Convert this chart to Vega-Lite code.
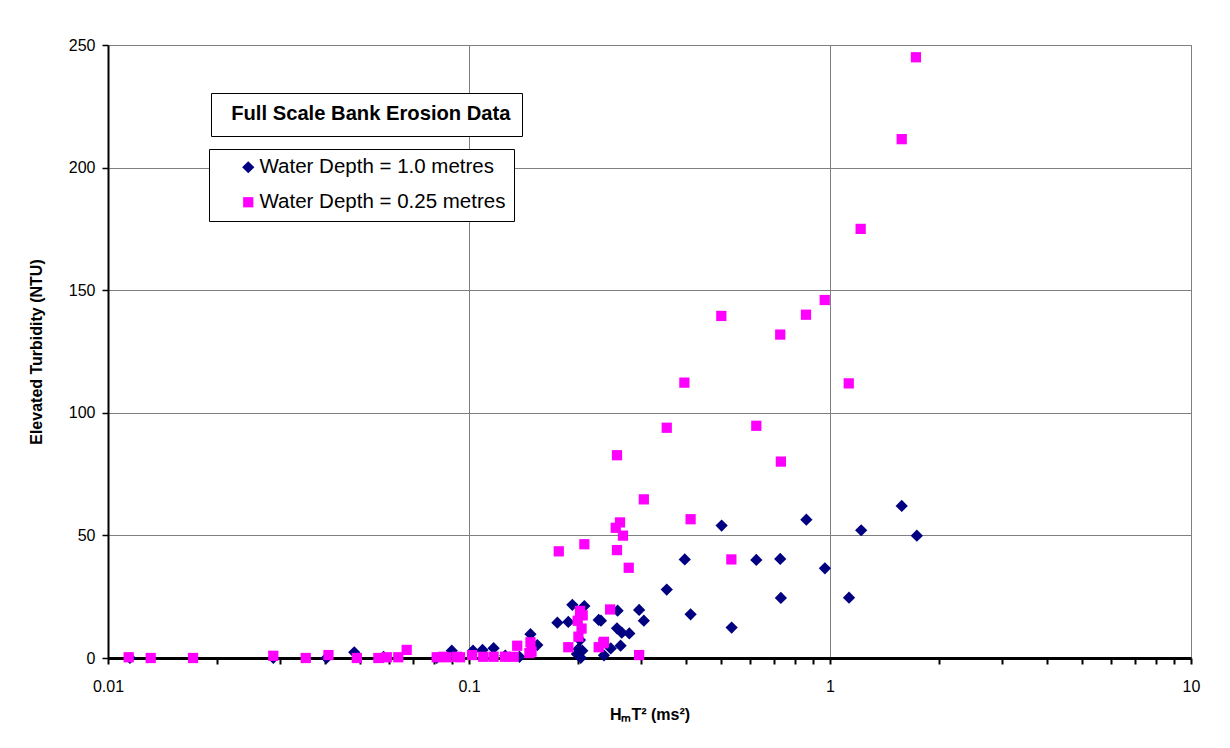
{
  "$schema": "https://vega.github.io/schema/vega-lite/v6.json",
  "autosize": "none",
  "width": 1083,
  "height": 613,
  "padding": {"left": 108, "top": 45, "right": 39, "bottom": 90},
  "background": "white",
  "config": {
    "font": "Liberation Sans",
    "view": {"stroke": "#808080", "strokeWidth": 1}
  },
  "datasets": {
    "obs": [
      {"series": "Water Depth = 1.0 metres", "hmt2": 0.0115, "turbidity": 0},
      {"series": "Water Depth = 1.0 metres", "hmt2": 0.0287, "turbidity": 0},
      {"series": "Water Depth = 1.0 metres", "hmt2": 0.0403, "turbidity": 0},
      {"series": "Water Depth = 1.0 metres", "hmt2": 0.0481, "turbidity": 2.3},
      {"series": "Water Depth = 1.0 metres", "hmt2": 0.058, "turbidity": 0.5},
      {"series": "Water Depth = 1.0 metres", "hmt2": 0.0814, "turbidity": 0},
      {"series": "Water Depth = 1.0 metres", "hmt2": 0.0896, "turbidity": 3},
      {"series": "Water Depth = 1.0 metres", "hmt2": 0.1026, "turbidity": 3},
      {"series": "Water Depth = 1.0 metres", "hmt2": 0.109, "turbidity": 3.3},
      {"series": "Water Depth = 1.0 metres", "hmt2": 0.117, "turbidity": 4},
      {"series": "Water Depth = 1.0 metres", "hmt2": 0.126, "turbidity": 1},
      {"series": "Water Depth = 1.0 metres", "hmt2": 0.138, "turbidity": 0.5},
      {"series": "Water Depth = 1.0 metres", "hmt2": 0.148, "turbidity": 9.7},
      {"series": "Water Depth = 1.0 metres", "hmt2": 0.1546, "turbidity": 5.3},
      {"series": "Water Depth = 1.0 metres", "hmt2": 0.1757, "turbidity": 14.4},
      {"series": "Water Depth = 1.0 metres", "hmt2": 0.1884, "turbidity": 14.7},
      {"series": "Water Depth = 1.0 metres", "hmt2": 0.1933, "turbidity": 21.7},
      {"series": "Water Depth = 1.0 metres", "hmt2": 0.199, "turbidity": 1.6},
      {"series": "Water Depth = 1.0 metres", "hmt2": 0.201, "turbidity": 3.7},
      {"series": "Water Depth = 1.0 metres", "hmt2": 0.203, "turbidity": 7.3},
      {"series": "Water Depth = 1.0 metres", "hmt2": 0.204, "turbidity": 0.1},
      {"series": "Water Depth = 1.0 metres", "hmt2": 0.206, "turbidity": 3},
      {"series": "Water Depth = 1.0 metres", "hmt2": 0.2087, "turbidity": 21.2},
      {"series": "Water Depth = 1.0 metres", "hmt2": 0.2287, "turbidity": 15.5},
      {"series": "Water Depth = 1.0 metres", "hmt2": 0.232, "turbidity": 15.2},
      {"series": "Water Depth = 1.0 metres", "hmt2": 0.2365, "turbidity": 1.1},
      {"series": "Water Depth = 1.0 metres", "hmt2": 0.247, "turbidity": 3.9},
      {"series": "Water Depth = 1.0 metres", "hmt2": 0.257, "turbidity": 12.1},
      {"series": "Water Depth = 1.0 metres", "hmt2": 0.258, "turbidity": 19.3},
      {"series": "Water Depth = 1.0 metres", "hmt2": 0.263, "turbidity": 5},
      {"series": "Water Depth = 1.0 metres", "hmt2": 0.265, "turbidity": 10.3},
      {"series": "Water Depth = 1.0 metres", "hmt2": 0.278, "turbidity": 10},
      {"series": "Water Depth = 1.0 metres", "hmt2": 0.296, "turbidity": 19.6},
      {"series": "Water Depth = 1.0 metres", "hmt2": 0.305, "turbidity": 15.2},
      {"series": "Water Depth = 1.0 metres", "hmt2": 0.353, "turbidity": 27.9},
      {"series": "Water Depth = 1.0 metres", "hmt2": 0.396, "turbidity": 40.2},
      {"series": "Water Depth = 1.0 metres", "hmt2": 0.411, "turbidity": 17.8},
      {"series": "Water Depth = 1.0 metres", "hmt2": 0.501, "turbidity": 54},
      {"series": "Water Depth = 1.0 metres", "hmt2": 0.534, "turbidity": 12.4},
      {"series": "Water Depth = 1.0 metres", "hmt2": 0.625, "turbidity": 40},
      {"series": "Water Depth = 1.0 metres", "hmt2": 0.728, "turbidity": 40.4},
      {"series": "Water Depth = 1.0 metres", "hmt2": 0.731, "turbidity": 24.5},
      {"series": "Water Depth = 1.0 metres", "hmt2": 0.86, "turbidity": 56.4},
      {"series": "Water Depth = 1.0 metres", "hmt2": 0.968, "turbidity": 36.6},
      {"series": "Water Depth = 1.0 metres", "hmt2": 1.129, "turbidity": 24.6},
      {"series": "Water Depth = 1.0 metres", "hmt2": 1.22, "turbidity": 52.1},
      {"series": "Water Depth = 1.0 metres", "hmt2": 1.58, "turbidity": 62},
      {"series": "Water Depth = 1.0 metres", "hmt2": 1.74, "turbidity": 49.9},
      {"series": "Water Depth = 0.25 metres", "hmt2": 0.01141, "turbidity": 0.3},
      {"series": "Water Depth = 0.25 metres", "hmt2": 0.01313, "turbidity": 0},
      {"series": "Water Depth = 0.25 metres", "hmt2": 0.0172, "turbidity": 0},
      {"series": "Water Depth = 0.25 metres", "hmt2": 0.0287, "turbidity": 0.9},
      {"series": "Water Depth = 0.25 metres", "hmt2": 0.0353, "turbidity": 0},
      {"series": "Water Depth = 0.25 metres", "hmt2": 0.0408, "turbidity": 1.2},
      {"series": "Water Depth = 0.25 metres", "hmt2": 0.0489, "turbidity": 0},
      {"series": "Water Depth = 0.25 metres", "hmt2": 0.0561, "turbidity": 0},
      {"series": "Water Depth = 0.25 metres", "hmt2": 0.0592, "turbidity": 0.3},
      {"series": "Water Depth = 0.25 metres", "hmt2": 0.0637, "turbidity": 0.3},
      {"series": "Water Depth = 0.25 metres", "hmt2": 0.0672, "turbidity": 3.3},
      {"series": "Water Depth = 0.25 metres", "hmt2": 0.0814, "turbidity": 0.3},
      {"series": "Water Depth = 0.25 metres", "hmt2": 0.0849, "turbidity": 0.5},
      {"series": "Water Depth = 0.25 metres", "hmt2": 0.0866, "turbidity": 0.3},
      {"series": "Water Depth = 0.25 metres", "hmt2": 0.0925, "turbidity": 0.5},
      {"series": "Water Depth = 0.25 metres", "hmt2": 0.0944, "turbidity": 0.3},
      {"series": "Water Depth = 0.25 metres", "hmt2": 0.102, "turbidity": 1.2},
      {"series": "Water Depth = 0.25 metres", "hmt2": 0.1095, "turbidity": 0.5},
      {"series": "Water Depth = 0.25 metres", "hmt2": 0.117, "turbidity": 0.5},
      {"series": "Water Depth = 0.25 metres", "hmt2": 0.1259, "turbidity": 0.5},
      {"series": "Water Depth = 0.25 metres", "hmt2": 0.133, "turbidity": 0.5},
      {"series": "Water Depth = 0.25 metres", "hmt2": 0.136, "turbidity": 5},
      {"series": "Water Depth = 0.25 metres", "hmt2": 0.147, "turbidity": 2},
      {"series": "Water Depth = 0.25 metres", "hmt2": 0.148, "turbidity": 6.4},
      {"series": "Water Depth = 0.25 metres", "hmt2": 0.149, "turbidity": 2.6},
      {"series": "Water Depth = 0.25 metres", "hmt2": 0.1773, "turbidity": 43.5},
      {"series": "Water Depth = 0.25 metres", "hmt2": 0.1884, "turbidity": 4.4},
      {"series": "Water Depth = 0.25 metres", "hmt2": 0.2, "turbidity": 15.2},
      {"series": "Water Depth = 0.25 metres", "hmt2": 0.201, "turbidity": 8.7},
      {"series": "Water Depth = 0.25 metres", "hmt2": 0.203, "turbidity": 19.2},
      {"series": "Water Depth = 0.25 metres", "hmt2": 0.205, "turbidity": 12},
      {"series": "Water Depth = 0.25 metres", "hmt2": 0.2065, "turbidity": 17.4},
      {"series": "Water Depth = 0.25 metres", "hmt2": 0.2087, "turbidity": 46.4},
      {"series": "Water Depth = 0.25 metres", "hmt2": 0.2287, "turbidity": 4.4},
      {"series": "Water Depth = 0.25 metres", "hmt2": 0.2355, "turbidity": 6},
      {"series": "Water Depth = 0.25 metres", "hmt2": 0.2365, "turbidity": 6.6},
      {"series": "Water Depth = 0.25 metres", "hmt2": 0.246, "turbidity": 19.8},
      {"series": "Water Depth = 0.25 metres", "hmt2": 0.255, "turbidity": 53.1},
      {"series": "Water Depth = 0.25 metres", "hmt2": 0.257, "turbidity": 44},
      {"series": "Water Depth = 0.25 metres", "hmt2": 0.257, "turbidity": 82.7},
      {"series": "Water Depth = 0.25 metres", "hmt2": 0.262, "turbidity": 55.3},
      {"series": "Water Depth = 0.25 metres", "hmt2": 0.267, "turbidity": 49.9},
      {"series": "Water Depth = 0.25 metres", "hmt2": 0.277, "turbidity": 36.8},
      {"series": "Water Depth = 0.25 metres", "hmt2": 0.296, "turbidity": 1.2},
      {"series": "Water Depth = 0.25 metres", "hmt2": 0.305, "turbidity": 64.7},
      {"series": "Water Depth = 0.25 metres", "hmt2": 0.353, "turbidity": 93.9},
      {"series": "Water Depth = 0.25 metres", "hmt2": 0.395, "turbidity": 112.3},
      {"series": "Water Depth = 0.25 metres", "hmt2": 0.411, "turbidity": 56.6},
      {"series": "Water Depth = 0.25 metres", "hmt2": 0.5, "turbidity": 139.5},
      {"series": "Water Depth = 0.25 metres", "hmt2": 0.533, "turbidity": 40.2},
      {"series": "Water Depth = 0.25 metres", "hmt2": 0.625, "turbidity": 94.7},
      {"series": "Water Depth = 0.25 metres", "hmt2": 0.728, "turbidity": 131.9},
      {"series": "Water Depth = 0.25 metres", "hmt2": 0.731, "turbidity": 80.1},
      {"series": "Water Depth = 0.25 metres", "hmt2": 0.858, "turbidity": 140},
      {"series": "Water Depth = 0.25 metres", "hmt2": 0.967, "turbidity": 146},
      {"series": "Water Depth = 0.25 metres", "hmt2": 1.127, "turbidity": 112},
      {"series": "Water Depth = 0.25 metres", "hmt2": 1.216, "turbidity": 175},
      {"series": "Water Depth = 0.25 metres", "hmt2": 1.58, "turbidity": 211.6},
      {"series": "Water Depth = 0.25 metres", "hmt2": 1.73, "turbidity": 245}
    ],
    "note": [{"note": "Full Scale Bank Erosion Data"}]
  },
  "layer": [
    {
      "data": {"name": "obs"},
      "mark": {"type": "point", "filled": true, "strokeWidth": 0, "opacity": 1},
      "encoding": {
        "x": {
          "field": "hmt2",
          "type": "quantitative",
          "scale": {"type": "log", "domain": [0.01, 10]},
          "axis": {
            "title": "HₘT² (ms²)",
            "titleFontSize": 16,
            "titleFontWeight": "bold",
            "titleColor": "black",
            "titlePadding": 12,
            "values": [0.01, 0.02, 0.03, 0.04, 0.05, 0.06, 0.07, 0.08, 0.09, 0.1, 0.2, 0.3, 0.4, 0.5, 0.6, 0.7, 0.8, 0.9, 1, 2, 3, 4, 5, 6, 7, 8, 9, 10],
            "labelExpr": "(datum.value == 0.01 || datum.value == 0.1 || datum.value == 1 || datum.value == 10) ? datum.value + '' : ''",
            "labelFontSize": 16,
            "labelColor": "black",
            "labelPadding": 14,
            "labelFlush": false,
            "labelOverlap": false,
            "domainColor": "black",
            "domainWidth": 3,
            "tickColor": "black",
            "tickWidth": 2,
            "tickSize": 6,
            "grid": true,
            "gridColor": "#808080",
            "gridWidth": 1,
            "gridOpacity": {"condition": {"test": "datum.value == 0.1 || datum.value == 1", "value": 1}, "value": 0}
          }
        },
        "y": {
          "field": "turbidity",
          "type": "quantitative",
          "scale": {"domain": [0, 250], "nice": false},
          "axis": {
            "title": "Elevated Turbidity (NTU)",
            "titleFontSize": 16,
            "titleFontWeight": "bold",
            "titleColor": "black",
            "titlePadding": 24,
            "values": [0, 50, 100, 150, 200, 250],
            "labelFontSize": 16,
            "labelColor": "black",
            "labelPadding": 7,
            "domainColor": "black",
            "domainWidth": 2,
            "tickColor": "black",
            "tickWidth": 1.5,
            "tickSize": 6,
            "grid": true,
            "gridColor": "#808080",
            "gridWidth": 1
          }
        },
        "color": {
          "field": "series",
          "type": "nominal",
          "scale": {"domain": ["Water Depth = 1.0 metres", "Water Depth = 0.25 metres"], "range": ["#000080", "#FF00FF"]},
          "legend": {
            "title": null,
            "orient": "none",
            "legendX": 101,
            "legendY": 104,
            "strokeColor": "black",
            "fillColor": "white",
            "padding": 8,
            "symbolOffset": 21,
            "labelOffset": 1,
            "rowPadding": 14,
            "labelFontSize": 20.5,
            "labelColor": "black",
            "labelLimit": 400,
            "symbolSize": 60,
            "symbolStrokeWidth": 0
          }
        },
        "shape": {
          "field": "series",
          "type": "nominal",
          "scale": {"domain": ["Water Depth = 1.0 metres", "Water Depth = 0.25 metres"], "range": ["diamond", "square"]}
        },
        "size": {
          "field": "series",
          "type": "nominal",
          "scale": {"domain": ["Water Depth = 1.0 metres", "Water Depth = 0.25 metres"], "range": [150, 105]},
          "legend": null
        }
      }
    },
    {
      "data": {"name": "note"},
      "mark": {"type": "point", "size": 0, "strokeWidth": 0, "filled": true},
      "encoding": {
        "opacity": {
          "field": "note",
          "type": "nominal",
          "legend": {
            "title": null,
            "orient": "none",
            "legendX": 103,
            "legendY": 48,
            "strokeColor": "black",
            "fillColor": "white",
            "padding": 11,
            "symbolSize": 0,
            "symbolOpacity": 0,
            "symbolOffset": -11,
            "labelOffset": 0,
            "labelFontSize": 20.2,
            "labelFontWeight": "bold",
            "labelColor": "black",
            "labelLimit": 400
          }
        }
      }
    }
  ]
}
